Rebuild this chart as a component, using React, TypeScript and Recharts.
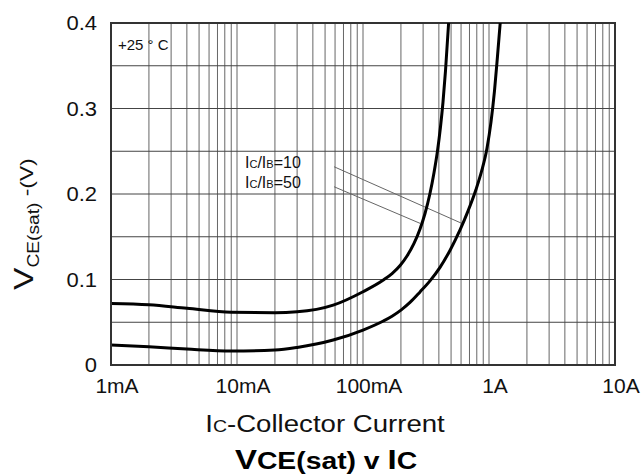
import {
  LineChart,
  Line,
  XAxis,
  YAxis,
  CartesianGrid,
  ReferenceLine,
  ReferenceArea,
} from "recharts";

const FONT = '"Liberation Sans", Arial, Helvetica, sans-serif';

// Ic/Ib = 50 (upper, left curve)
const current50 = [
  0.001, 0.002, 0.004, 0.009, 0.02, 0.03, 0.058, 0.1, 0.145, 0.17, 0.197, 0.2235, 0.254, 0.2835, 0.3105,
  0.34, 0.366, 0.39, 0.412, 0.4315, 0.4517, 0.478,
];
const vce50 = [
  0.072, 0.0705, 0.0663, 0.0616, 0.0612, 0.0622, 0.07, 0.0857, 0.0994, 0.107, 0.1164, 0.1275, 0.1422, 0.1591,
  0.1772, 0.2006, 0.2249, 0.2503, 0.2784, 0.3076, 0.3442, 0.4,
];

// Ic/Ib = 10 (lower, right curve)
const current10 = [
  0.001, 0.002, 0.004, 0.009, 0.02, 0.03, 0.058, 0.1, 0.145, 0.17, 0.2, 0.236, 0.2835, 0.34, 0.4085, 0.49,
  0.589, 0.681, 0.7885, 0.88, 0.964, 1.037, 1.106, 1.168, 1.227,
];
const vce10 = [
  0.0234, 0.0214, 0.0187, 0.0164, 0.0175, 0.0205, 0.0292, 0.0409, 0.0515, 0.0571, 0.0642, 0.0732, 0.0855,
  0.0984, 0.1142, 0.134, 0.158, 0.18, 0.2053, 0.2284, 0.2536, 0.284, 0.3208, 0.3612, 0.4,
];

const xDecades = [0.001, 0.01, 0.1, 1, 10];
const xDecadeLabels = ["1mA", "10mA", "100mA", "1A", "10A"];
const xMinorSteps = [1, 2, 3, 4, 5, 6, 7, 8, 9];

const yGridValues = [0, 0.05, 0.1, 0.15, 0.2, 0.25, 0.3, 0.35, 0.4];
const yLabelValues = [0, 0.1, 0.2, 0.3, 0.4];
const yLabels = ["0", "0.1", "0.2", "0.3", "0.4"];

// leader lines from the labels to the curves
const leader10 = [
  { x: 0.0589, y: 0.2319 },
  { x: 0.607, y: 0.1657 },
];
const leader50 = [
  { x: 0.0589, y: 0.2085 },
  { x: 0.2834, y: 0.1657 },
];

const data50 = current50.map((i, k) => ({ i, v: vce50[k] }));
const data10 = current10.map((i, k) => ({ i, v: vce10[k] }));

const xTicks: number[] = [];
xDecades.slice(0, -1).forEach((d) => xMinorSteps.forEach((m) => xTicks.push(d * m)));
xTicks.push(xDecades[xDecades.length - 1]);

const XTick = (props: any) => {
  const { x, y, payload } = props;
  const idx = xDecades.findIndex((d) => Math.abs(Math.log10(payload.value / d)) < 1e-6);
  if (idx < 0) return null;
  return (
    <text x={x + 6} y={y + 28} textAnchor="middle" fontSize={21} fontFamily={FONT} fill="#111">
      {xDecadeLabels[idx]}
    </text>
  );
};

const YTick = (props: any) => {
  const { y, payload } = props;
  const idx = yLabelValues.findIndex((v) => Math.abs(v - payload.value) < 1e-6);
  if (idx < 0) return null;
  return (
    <text transform={`translate(97, ${y + 7}) scale(1.1, 1)`} textAnchor="end" fontSize={20} fontFamily={FONT} fill="#111">
      {yLabels[idx]}
    </text>
  );
};

export default function App() {
  return (
    <div style={{ position: "absolute", left: 0, top: 0, background: "#fff" }}>
      <LineChart width={641} height={476} margin={{ top: 23, right: 26, bottom: 81, left: 51 }}>
        <CartesianGrid horizontal={false} stroke="#666" strokeWidth={1} />
        <CartesianGrid vertical={false} stroke="#444" strokeWidth={1} />
        <XAxis
          dataKey="i"
          type="number"
          scale="log"
          domain={[0.001, 10]}
          allowDataOverflow
          ticks={xTicks}
          interval={0}
          height={30}
          tickSize={0}
          tickMargin={0}
          tick={<XTick />}
          axisLine={{ stroke: "#333", strokeWidth: 2 }}
        />
        <YAxis
          type="number"
          domain={[0, 0.4]}
          ticks={yGridValues}
          interval={0}
          width={60}
          tickSize={0}
          tick={<YTick />}
          axisLine={{ stroke: "#333", strokeWidth: 2 }}
        />
        <ReferenceArea x1={0.001} x2={10} y1={0} y2={0.4} fill="none" stroke="#333" strokeWidth={2} />
        <ReferenceLine segment={leader10} stroke="#666" strokeWidth={1} />
        <ReferenceLine segment={leader50} stroke="#666" strokeWidth={1} />
        <Line data={data50} dataKey="v" type="monotone" stroke="#000" strokeWidth={3} dot={false} isAnimationActive={false} />
        <Line data={data10} dataKey="v" type="monotone" stroke="#000" strokeWidth={3} dot={false} isAnimationActive={false} />

        <text x={118} y={50} fontSize={15} fontFamily={FONT} fill="#111">+25 ° C</text>
        <text x={245} y={168} fontFamily={FONT} fill="#111">
          <tspan fontSize={16}>I</tspan>
          <tspan fontSize={11}>C</tspan>
          <tspan fontSize={16}>/I</tspan>
          <tspan fontSize={11}>B</tspan>
          <tspan fontSize={16}>=10</tspan>
        </text>
        <text x={245} y={188} fontFamily={FONT} fill="#111">
          <tspan fontSize={16}>I</tspan>
          <tspan fontSize={11}>C</tspan>
          <tspan fontSize={16}>/I</tspan>
          <tspan fontSize={11}>B</tspan>
          <tspan fontSize={16}>=50</tspan>
        </text>

        <text transform="translate(33, 290) rotate(-90) scale(1.2, 1)" fontFamily={FONT} fill="#111">
          <tspan fontSize={28}>V</tspan>
          <tspan fontSize={16} dy={6}>CE(sat)</tspan>
          <tspan fontSize={19} dy={-6}> -(V)</tspan>
        </text>

        <text transform="translate(325, 432) scale(1.15, 1)" textAnchor="middle" fontFamily={FONT} fill="#111">
          <tspan fontSize={24}>I</tspan>
          <tspan fontSize={17}>C</tspan>
          <tspan fontSize={24}>-Collector Current</tspan>
        </text>

        <text transform="translate(326, 469) scale(1.18, 1)" textAnchor="middle" fontFamily={FONT} fontWeight="bold" fill="#000">
          <tspan fontSize={28}>V</tspan>
          <tspan fontSize={24}>CE(sat) v </tspan>
          <tspan fontSize={28}>I</tspan>
          <tspan fontSize={24}>C</tspan>
        </text>
      </LineChart>
    </div>
  );
}
